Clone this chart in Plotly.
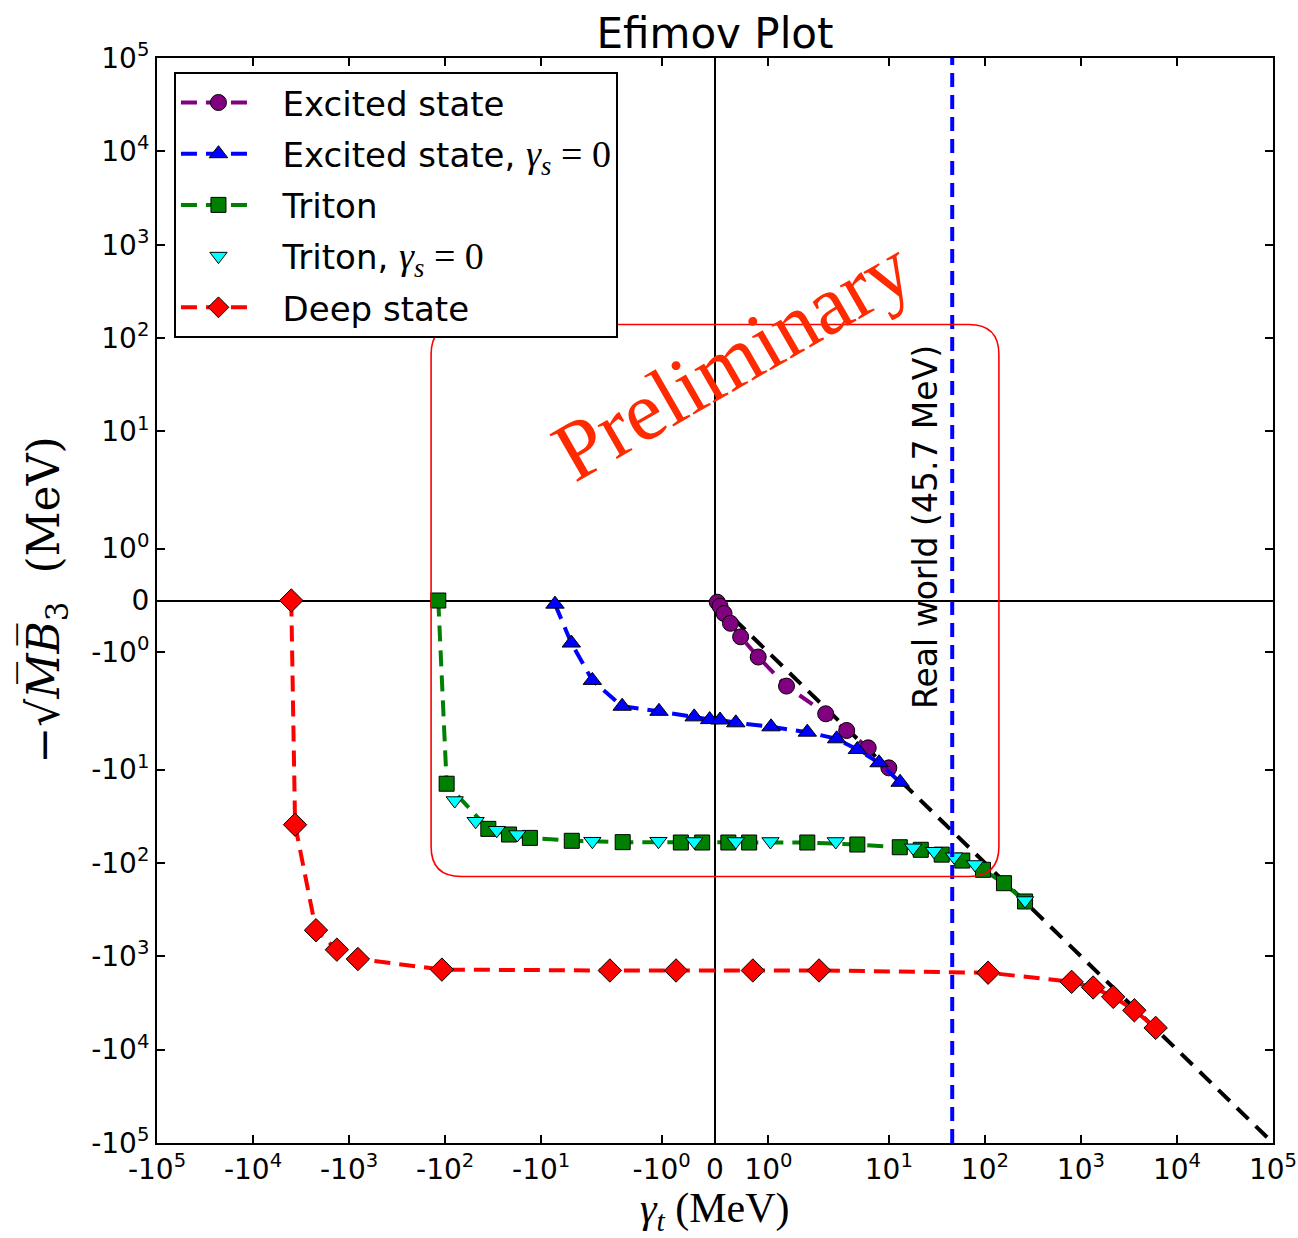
import numpy as np
import plotly.graph_objects as go

# ---------------- data (MeV) ----------------
excited_x = [0.043, 0.094, 0.17, 0.29, 0.48, 0.81, 1.34, 2.20, 3.64, 6.1, 10.0]
excited_y = [-0.033, -0.11, -0.25, -0.44, -0.70, -1.09, -1.65, -2.53, -3.82, -5.86, -9.6]

excited_gs0_x = [-7.18, -4.85, -2.93, -1.74, -1.05, -0.39, -0.10, 0.094, 0.39, 1.05, 1.73, 2.86, 4.70, 7.91, 13.1]
excited_gs0_y = [-0.07, -0.82, -1.54, -2.10, -2.38, -2.73, -2.92, -2.95, -3.16, -3.49, -3.98, -4.69, -6.11, -8.47, -13.7]

triton_x = [-117.8, -96.4, -35.5, -21.6, -13.1, -4.8, -1.73, -0.64, -0.24, 0.25, 0.64, 1.73,
            4.7, 13.0, 21.5, 35.5, 58.2, 95.5, 158, 262]
triton_y = [0, -14.2, -43.2, -49.7, -54, -58, -60, -60.5, -60.5, -60.5, -60.5, -60.5,
            -63.6, -68, -72.4, -81.6, -94.4, -118.6, -165, -259]

triton_gs0_x = [-79.4, -48.1, -29.0, -17.7, -2.93, -1.06, -0.39, 0.39, 1.04, 2.80, 17.9, 29.5, 47.8, 78.9, 262]
triton_gs0_y = [-21.5, -35.8, -44.7, -49.7, -58.6, -58.6, -59, -59, -59, -59, -69, -75, -86, -104, -253]

deep_x = [-4000, -3650, -2210, -1340, -810, -108, -1.97, -0.73, 0.71, 1.95,
          108, 800, 1340, 2170, 3600, 6000]
deep_y = [0, -39, -526, -850, -1070, -1390, -1420, -1420, -1420, -1420,
          -1500, -1880, -2160, -2720, -3790, -5850]

diag_x = [0, 1e5]            # reference line  -sqrt(MB3) = -gamma_t
real_world = 45.7            # MeV
box_lim = 140                # "Preliminary" box half-size (MeV)

tick_vals = [-1e5, -1e4, -1e3, -1e2, -1e1, -1, 0, 1, 1e1, 1e2, 1e3, 1e4, 1e5]
tick_text = ["-10<sup>5</sup>", "-10<sup>4</sup>", "-10<sup>3</sup>", "-10<sup>2</sup>",
             "-10<sup>1</sup>", "-10<sup>0</sup>", "0", "10<sup>0</sup>", "10<sup>1</sup>",
             "10<sup>2</sup>", "10<sup>3</sup>", "10<sup>4</sup>", "10<sup>5</sup>"]

# ---------------- symlog scale (linthresh = 2, linscale = 1) ----------------
LINTHRESH = 2.0
ADJ = 1.0 / (1.0 - 1.0 / 10.0)


def symlog(v):
    v = np.asarray(v, dtype=float)
    a = np.abs(v)
    lin = v * ADJ / LINTHRESH
    lg = np.sign(v) * (ADJ + np.log10(np.maximum(a, LINTHRESH) / LINTHRESH))
    return np.where(a <= LINTHRESH, lin, lg)


NB = "\u00a0\u00a0"
GS = "<span style='font-family:\"Liberation Serif\";font-size:38px'><i>γ<sub>s</sub></i> = 0</span>"

fig = go.Figure()

# reference diagonal
dx = np.array(diag_x)
fig.add_trace(go.Scatter(x=symlog(dx), y=symlog(-dx), mode="lines",
                         line=dict(color="black", width=4, dash="16px,10px"),
                         showlegend=False, hoverinfo="skip"))

marker_line = dict(color="black", width=1)
dash = "16px,9px"

fig.add_trace(go.Scatter(x=symlog(excited_x), y=symlog(excited_y), mode="lines+markers",
                         name=NB + "Excited state", legendgroup="a",
                         line=dict(color="purple", width=4, dash=dash),
                         marker=dict(symbol="circle", size=16, color="purple", line=marker_line)))
fig.add_trace(go.Scatter(x=symlog(excited_gs0_x), y=symlog(excited_gs0_y), mode="lines+markers",
                         name=NB + "Excited state, " + GS, legendgroup="b",
                         line=dict(color="blue", width=4, dash=dash),
                         marker=dict(symbol="triangle-up", size=16, color="blue", line=marker_line)))
fig.add_trace(go.Scatter(x=symlog(triton_x), y=symlog(triton_y), mode="lines+markers",
                         name=NB + "Triton", legendgroup="c",
                         line=dict(color="green", width=4, dash=dash),
                         marker=dict(symbol="square", size=15, color="green", line=marker_line)))
fig.add_trace(go.Scatter(x=symlog(triton_gs0_x), y=symlog(triton_gs0_y), mode="markers",
                         name=NB + "Triton, " + GS, legendgroup="d",
                         marker=dict(symbol="triangle-down", size=15, color="cyan", line=marker_line)))
fig.add_trace(go.Scatter(x=symlog(deep_x), y=symlog(deep_y), mode="lines+markers",
                         name=NB + "Deep state", legendgroup="e",
                         line=dict(color="red", width=4, dash=dash),
                         marker=dict(symbol="diamond", size=18, color="red", line=marker_line)))

# real-world vertical line
fig.add_trace(go.Scatter(x=symlog([real_world, real_world]), y=symlog([-1e5, 1e5]), mode="lines",
                         line=dict(color="blue", width=4, dash="14px,8px"),
                         showlegend=False, hoverinfo="skip"))

# rounded "Preliminary" box
L, R = float(symlog(-box_lim)), float(symlog(box_lim))
B, T = float(symlog(-box_lim)), float(symlog(box_lim))
rx, ry = 30 / 96.04, 30 / 93.37
path = (f"M {L+rx},{T} L {R-rx},{T} Q {R},{T} {R},{T-ry} L {R},{B+ry} Q {R},{B} {R-rx},{B} "
        f"L {L+rx},{B} Q {L},{B} {L},{B+ry} L {L},{T-ry} Q {L},{T} {L+rx},{T} Z")
fig.add_shape(type="path", path=path, xref="x", yref="y",
              line=dict(color="red", width=1.6), fillcolor="rgba(0,0,0,0)", layer="above")

axis_common = dict(
    showgrid=False, zeroline=True, zerolinecolor="black", zerolinewidth=2,
    showline=True, linecolor="black", linewidth=2, mirror="allticks",
    ticks="inside", ticklen=8, tickwidth=1.5, tickcolor="black",
    tickmode="array", tickvals=symlog(tick_vals), ticktext=tick_text,
    tickfont=dict(family="DejaVu Sans", size=28, color="black"),
    automargin=False,
)
rng = [float(symlog(-1e5)), float(symlog(1e5))]
fig.update_xaxes(range=rng, **axis_common)
fig.update_yaxes(range=rng, **axis_common)

fig.add_annotation(text="Real world (45.7 MeV)", xref="x", yref="y",
                   x=float(symlog(real_world)), y=0.79, xshift=-26,
                   textangle=-90, showarrow=False, xanchor="center", yanchor="middle",
                   font=dict(family="DejaVu Sans", size=33, color="black"))
fig.add_annotation(text="Preliminary", xref="x", yref="y", x=0.177, y=2.58,
                   textangle=-30, showarrow=False, xanchor="center", yanchor="middle",
                   font=dict(family="Liberation Serif", size=84, color="#ff2a00"))
fig.add_annotation(text="<i>γ<sub>t</sub></i> (MeV)", xref="paper", yref="paper",
                   x=0.5, y=(1143 - 1211) / 1085, showarrow=False,
                   xanchor="center", yanchor="middle",
                   font=dict(family="Liberation Serif", size=42, color="black"))
fig.add_annotation(text="−√<i>M\u0305B\u0305</i><sub>3</sub>  (MeV)",
                   xref="paper", yref="paper", x=(45 - 157) / 1116, y=0.5, textangle=-90,
                   showarrow=False, xanchor="center", yanchor="middle",
                   font=dict(family="DejaVu Serif", size=44, color="black"))

fig.update_layout(
    width=1298, height=1238, autosize=False,
    margin=dict(l=157, r=25, t=58, b=95),
    paper_bgcolor="white", plot_bgcolor="white",
    title=dict(text="Efimov Plot", x=0.5, xref="paper", xanchor="center",
               y=1 - 33 / 1238, yref="container", yanchor="middle",
               font=dict(family="DejaVu Sans", size=42, color="black")),
    legend=dict(x=0.0152, y=0.9872, xanchor="left", yanchor="top",
                bgcolor="white", bordercolor="black", borderwidth=2,
                font=dict(family="DejaVu Sans", size=34, color="black"),
                itemwidth=75, tracegroupgap=4),
    showlegend=True,
)

fig.write_html("out.html")
